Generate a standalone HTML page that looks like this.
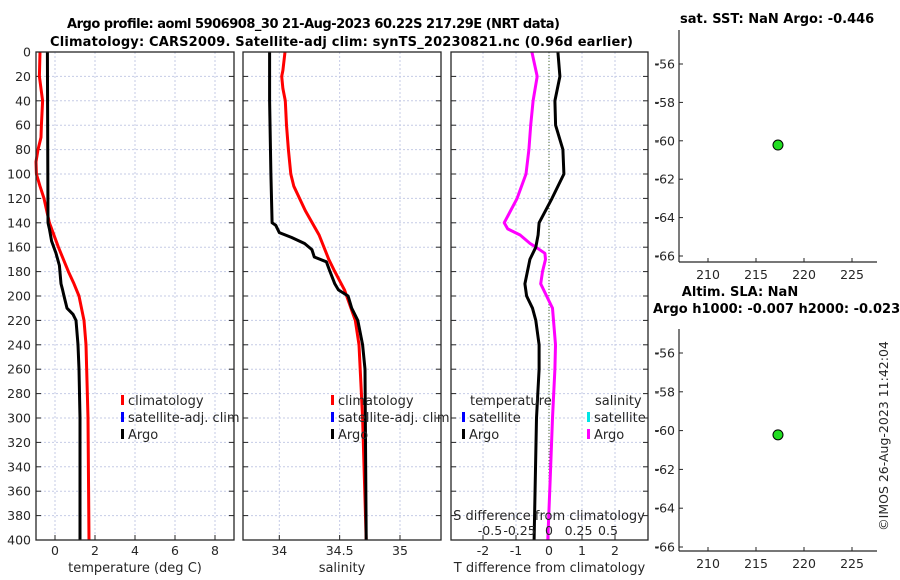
<!DOCTYPE html>
<html><head><meta charset="utf-8"><style>
html,body{margin:0;padding:0;background:#fff;}
svg{display:block;font-family:"DejaVu Sans","Liberation Sans",sans-serif;}
</style></head><body>
<svg id="fig" width="900" height="580" viewBox="0 0 900 580" xmlns="http://www.w3.org/2000/svg">
<text x="67" y="28" font-size="13" font-weight="bold" textLength="493">Argo profile: aoml 5906908_30 21-Aug-2023 60.22S 217.29E (NRT data)</text>
<text x="50" y="46" font-size="13" font-weight="bold" textLength="583">Climatology: CARS2009. Satellite-adj clim: synTS_20230821.nc (0.96d earlier)</text>
<text x="680" y="23" font-size="13" font-weight="bold">sat. SST: NaN Argo: -0.446</text>
<text x="740" y="296" font-size="13" font-weight="bold" text-anchor="middle">Altim. SLA: NaN</text>
<text x="653" y="313" font-size="13" font-weight="bold">Argo h1000: -0.007 h2000: -0.023</text>
<text transform="translate(888,436) rotate(-90)" font-size="12.5" text-anchor="middle" fill="#262626">©IMOS 26-Aug-2023 11:42:04</text>
<g id="g"></g>
</svg>
<script>
const depthsT=[0,20,40,60,70,80,90,100,110,120,140,160,180,190,200,220,240,300,400];
const climTemp=[-0.75,-0.78,-0.62,-0.68,-0.7,-0.85,-0.95,-0.93,-0.75,-0.55,-0.28,0.17,0.67,0.95,1.2,1.45,1.55,1.65,1.7];
const depthsA=[0,140,145,155,165,175,190,195,200,210,215,220,240,260,300,400];
const argoTemp=[-0.38,-0.35,-0.28,-0.17,0.05,0.22,0.3,0.38,0.45,0.6,0.9,1.05,1.15,1.2,1.25,1.25];
const depthsS=[0,15,20,30,40,60,80,100,110,130,150,170,180,195,220,240,300,400];
const climSal=[34.047,34.03,34.02,34.03,34.05,34.06,34.075,34.095,34.12,34.215,34.33,34.41,34.46,34.54,34.63,34.66,34.69,34.72];
const depthsAS=[0,40,100,140,142,148,152,157,162,168,172,180,190,195,200,210,220,240,260,400];
const argoSal=[33.92,33.92,33.93,33.94,33.97,34.0,34.1,34.21,34.27,34.29,34.39,34.42,34.46,34.49,34.57,34.6,34.65,34.69,34.71,34.72];
const depthsDT=[0,20,40,60,80,100,120,140,150,160,170,190,200,210,220,240,260,300,400];
const tDiff=[0.27,0.33,0.18,0.2,0.42,0.45,0.09,-0.3,-0.33,-0.4,-0.58,-0.73,-0.68,-0.5,-0.4,-0.3,-0.3,-0.38,-0.45];
const depthsDS=[0,20,40,60,80,100,120,140,145,150,157,160,165,170,180,190,200,210,240,260,300,350,400];
const sDiff=[-0.145,-0.1,-0.135,-0.155,-0.17,-0.195,-0.27,-0.38,-0.35,-0.245,-0.16,-0.11,-0.035,-0.03,-0.055,-0.07,-0.02,0.03,0.055,0.05,0.03,0.01,-0.01];
const lonVal=[217.29];const latVal=[-60.22];
const depthTicks=[0,20,40,60,80,100,120,140,160,180,200,220,240,260,280,300,320,340,360,380,400];
const tempTicks=[0,2,4,6,8];
const salTicks=[34,34.5,35];const salLabels=["34","34.5","35"];
const dtTicks=[-2,-1,0,1,2];
const dsLabels=["-0.5","-0.25","0","0.25","0.5"];const dsTicks=[-0.5,-0.25,0,0.25,0.5];
const lonTicks=[210,215,220,225];const latTicks=[-56,-58,-60,-62,-64,-66];

const NS="http://www.w3.org/2000/svg";const G=document.getElementById('g');
function mk(t,a,p){const e=document.createElementNS(NS,t);for(const k in a)e.setAttribute(k,a[k]);(p||G).appendChild(e);return e;}
function lin(d0,d1,r0,r1){return v=>r0+(v-d0)*(r1-r0)/(d1-d0);}
const Y=lin(0,400,52,540);
const P=[{x0:36,x1:234,X:lin(-1,9,35,235),ticks:tempTicks,labels:tempTicks.map(String),title:"temperature (deg C)",n:"temperature"},
{x0:243,x1:441,X:lin(34,35,279.3,400),ticks:salTicks,labels:salLabels,title:"salinity",n:"salinity"},
{x0:451,x1:648,X:lin(-3,3,450,648),ticks:dtTicks,labels:dtTicks.map(String),title:"T difference from climatology",n:"difference"}];
P.forEach((p,i)=>{
 const g=mk('g',{});
 depthTicks.forEach(d=>{const l=mk('line',{x1:p.x0,x2:p.x1,y1:Y(d),y2:Y(d),stroke:'#c5cbe6','stroke-width':1,'stroke-dasharray':'2,2'},g);
  mk('line',{x1:p.x0,x2:p.x0+5,y1:Y(d),y2:Y(d),stroke:'#262626'},g);mk('line',{x1:p.x1-5,x2:p.x1,y1:Y(d),y2:Y(d),stroke:'#262626'},g);
  if(i==0){const t=mk('text',{x:31,y:Y(d)+4.5,'font-size':12.5,'text-anchor':'end',fill:'#262626'},g);t.textContent=d;}});
 p.ticks.forEach((v,k)=>{const x=p.X(v);const l=mk('line',{x1:x,x2:x,y1:52,y2:540,stroke:'#c5cbe6','stroke-dasharray':'2,2'},g);
  mk('line',{x1:x,x2:x,y1:535,y2:540,stroke:'#262626'},g);
  const t=mk('text',{x:x,y:555,'font-size':12.5,'text-anchor':'middle',fill:'#262626'},g);t.textContent=p.labels[k];});
 const t=mk('text',{x:(p.x0+p.x1)/2,y:572,'font-size':13,'text-anchor':'middle',fill:'#262626'},g);t.textContent=p.title;
 p.g=g;});
function line(p,xs,ds,col,name){const pts=xs.map((v,k)=>p.X(v).toFixed(1)+','+Y(ds[k]).toFixed(1)).join(' ');const e=mk('polyline',{points:pts,fill:'none',stroke:col,'stroke-width':3,'stroke-linejoin':'round'},p.g);}
// zero line
const z=mk('line',{x1:P[2].X(0),x2:P[2].X(0),y1:52,y2:540,stroke:'#4d6b2e','stroke-dasharray':'1,2'},P[2].g);
line(P[0],climTemp,depthsT,'#ff0000','climatology-temp-line');
line(P[0],argoTemp,depthsA,'#000','argo-temp-line');
line(P[1],climSal,depthsS,'#ff0000','climatology-sal-line');
line(P[1],argoSal,depthsAS,'#000','argo-sal-line');
const SX=lin(-1,1,P[2].X(0)-118,P[2].X(0)+118);
line({X:SX,g:P[2].g},sDiff,depthsDS,'#ff00ff','argo-sal-diff-line');
line(P[2],tDiff,depthsDT,'#000','argo-temp-diff-line');
// boxes
P.forEach(p=>{const r=mk('rect',{x:p.x0,y:52,width:p.x1-p.x0,height:488,fill:'none',stroke:'#262626','stroke-width':1.3},p.g);});
// S difference axis labels
{const t=mk('text',{x:549,y:520,'font-size':13,'text-anchor':'middle',fill:'#262626'},P[2].g);t.textContent='S difference from climatology';
dsTicks.forEach((v,k)=>{const tt=mk('text',{x:SX(v),y:535,'font-size':12.5,'text-anchor':'middle',fill:'#262626'},P[2].g);tt.textContent=dsLabels[k];});}
// legends
function leg(x,y,col,txt,name){const g=mk('g',{});
 if(col)mk('rect',{x:x,y:y-10,width:3,height:10,fill:col},g);const t=mk('text',{x:x+(col?7:0),y:y,'font-size':13,fill:'#262626'},g);t.textContent=txt;}
leg(121,405,'#ff0000','climatology','legend-climatology');leg(121,422,'#0000ff','satellite-adj. clim','legend-satellite-adj');leg(121,439,'#000','Argo','legend-argo');
leg(331,405,'#ff0000','climatology','legend-climatology-sal');leg(331,422,'#0000ff','satellite-adj. clim','legend-satellite-adj-sal');leg(331,439,'#000','Argo','legend-argo-sal');
leg(470,405,null,'temperature','legend-temperature-header');leg(462,422,'#0000ff','satellite','legend-temp-satellite');leg(462,439,'#000','Argo','legend-temp-argo');
leg(595,405,null,'salinity','legend-salinity-header');leg(587,422,'#00e5e5','satellite','legend-sal-satellite');leg(587,439,'#ff00ff','Argo','legend-sal-argo');
// map panels
[{top:30,bot:262,Yl:lin(-56,-66,64,256),n:'sst-map-panel'},{top:329,bot:551,Yl:lin(-56,-66,353,547),n:'sla-map-panel'}].forEach(m=>{
 const g=mk('g',{});
 const X=lin(210,225,708,852);
 mk('line',{x1:679,x2:679,y1:m.top,y2:m.bot,stroke:'#262626','stroke-width':1.2},g);mk('line',{x1:679,x2:877,y1:m.bot,y2:m.bot,stroke:'#262626','stroke-width':1.2},g);
 lonTicks.forEach(v=>{mk('line',{x1:X(v),x2:X(v),y1:m.bot,y2:m.bot-4,stroke:'#262626'},g);const t=mk('text',{x:X(v),y:m.bot+17,'font-size':12.5,'text-anchor':'middle',fill:'#262626'},g);t.textContent=v;});
 latTicks.forEach(v=>{mk('line',{x1:679,x2:683,y1:m.Yl(v),y2:m.Yl(v),stroke:'#262626'},g);mk('line',{x1:655,x2:659,y1:m.Yl(v),y2:m.Yl(v),stroke:'#262626'},g);const t=mk('text',{x:675,y:m.Yl(v)+4.5,'font-size':12.5,'text-anchor':'end',fill:'#262626'},g);t.textContent=v;});
 lonVal.forEach((v,k)=>{const c=mk('circle',{cx:X(v),cy:m.Yl(latVal[k]),r:5,fill:'#22dd22',stroke:'#000','stroke-width':1},g);});
});
</script>
</body></html>
